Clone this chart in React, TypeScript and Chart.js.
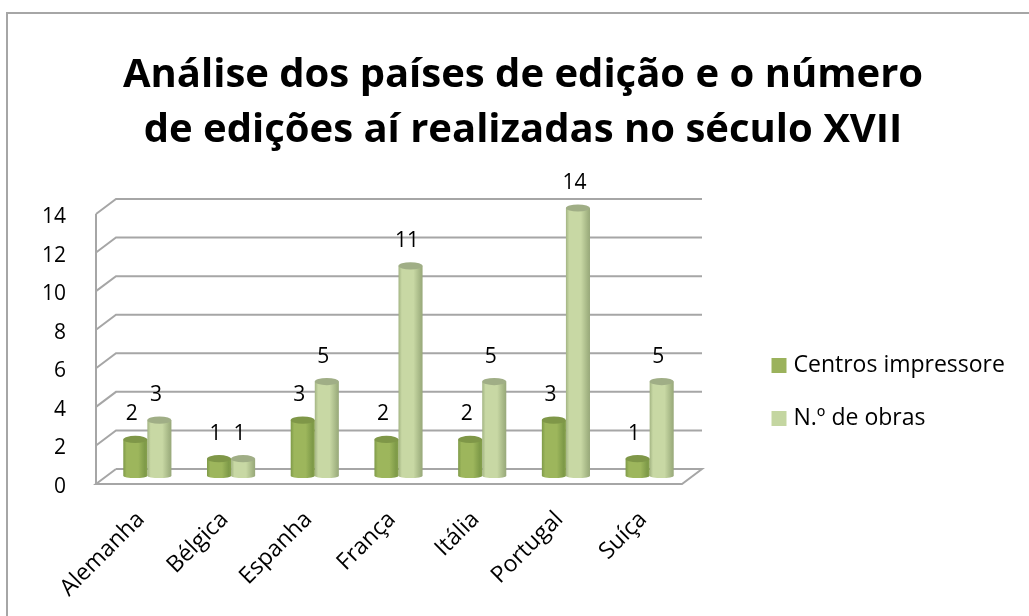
import React, { useEffect, useRef } from "react";
import { Chart, registerables, BarController, BarElement } from "chart.js";

const categories = ["Alemanha", "Bélgica", "Espanha", "França", "Itália", "Portugal", "Suíça"];
const centrosImpressores = [2, 1, 3, 2, 2, 3, 1];
const numeroObras = [3, 1, 5, 11, 5, 14, 5];
const seriesNames = ["Centros impressore", "N.º de obras"];
const titleLines = ["Análise dos países de edição e o número", "de edições aí realizadas no século XVII"];

const DARK = "#9BB25C";
const LIGHT = "#C4D6A1";
const FONT = "'Open Sans'";
const DEPTH_X = 20;
const DEPTH_Y = 15;
const BAR_DX = 9.5;
const BAR_DY = -6;

const shades: Record<string, { edge: string; mid: string; side: string; top: string; rim: string }> = {
  [DARK]: { edge: "#7E9A48", mid: "#9DB65C", side: "#86A04C", top: "#7F9748", rim: "#8AA14E" },
  [LIGHT]: { edge: "#A3B483", mid: "#C8D8A4", side: "#98A87A", top: "#A0AE86", rim: "#B6C596" },
};

class CylinderElement extends BarElement {
  static id = "cylinder";
  static defaults = { ...BarElement.defaults };
  static defaultRoutes = BarElement.defaultRoutes;
  draw(ctx: CanvasRenderingContext2D) {
    const { x, y, base, width } = (this as any).getProps(["x", "y", "base", "width"]);
    const color = (this as any).options.backgroundColor as string;
    const s = shades[color];
    const cx = x + BAR_DX;
    const left = cx - width / 2;
    const right = cx + width / 2;
    const topY = y + BAR_DY;
    const baseY = base + BAR_DY - 2;
    const grad = ctx.createLinearGradient(left, 0, right, 0);
    grad.addColorStop(0, s.edge);
    grad.addColorStop(0.14, s.mid);
    grad.addColorStop(0.62, s.mid);
    grad.addColorStop(0.9, s.edge);
    grad.addColorStop(1, s.side);
    ctx.save();
    ctx.beginPath();
    ctx.moveTo(left, topY);
    ctx.lineTo(left, baseY);
    ctx.ellipse(cx, baseY, width / 2, 2, 0, Math.PI, 0, true);
    ctx.lineTo(right, topY);
    ctx.closePath();
    ctx.fillStyle = grad;
    ctx.fill();
    ctx.beginPath();
    ctx.ellipse(cx, topY, width / 2, 3.6, 0, 0, Math.PI * 2);
    ctx.fillStyle = s.top;
    ctx.fill();
    ctx.restore();
  }
}

class CylinderBarController extends BarController {
  static id = "cylinderBar";
  static defaults = { ...BarController.defaults, dataElementType: "cylinder" };
  static overrides = BarController.overrides;
}

Chart.register(...registerables, CylinderElement, CylinderBarController);

const frame3d = {
  id: "frame3d",
  afterLayout(chart: any) {
    const lg = chart.legend;
    lg.left = 746;
    lg.right = 1029;
    lg.top = 324;
    lg.bottom = 600;
    lg.width = 283;
    lg.height = 276;
    const tb = chart.titleBlock;
    tb.left = 0;
    tb.right = 1046;
    tb.width = 1046;
  },
  beforeDatasetsDraw(chart: any) {
    const { ctx, chartArea, scales } = chart;
    const { left, right, bottom, top } = chartArea;
    ctx.save();
    ctx.strokeStyle = "#A6A6A6";
    ctx.lineWidth = 2;
    ctx.strokeRect(7, 13, 1029, 700);
    ctx.lineJoin = "miter";
    scales.y.ticks.forEach((t: any) => {
      const py = scales.y.getPixelForValue(t.value);
      if (t.value === 0) return;
      ctx.beginPath();
      ctx.moveTo(left, py);
      ctx.lineTo(left + DEPTH_X, py - DEPTH_Y);
      ctx.lineTo(right + DEPTH_X, py - DEPTH_Y);
      ctx.stroke();
    });
    ctx.beginPath();
    ctx.moveTo(left + DEPTH_X, bottom - DEPTH_Y);
    ctx.lineTo(right + DEPTH_X, bottom - DEPTH_Y);
    ctx.lineTo(right, bottom);
    ctx.lineTo(left, bottom);
    ctx.lineTo(left + DEPTH_X, bottom - DEPTH_Y);
    ctx.moveTo(left, bottom);
    ctx.lineTo(left, top);
    ctx.stroke();
    ctx.restore();
  },
  afterDatasetsDraw(chart: any) {
    const { ctx } = chart;
    ctx.save();
    ctx.fillStyle = "#000";
    ctx.font = `21px ${FONT}`;
    ctx.textAlign = "center";
    ctx.textBaseline = "middle";
    chart.data.datasets.forEach((ds: any, di: number) => {
      chart.getDatasetMeta(di).data.forEach((el: any, i: number) => {
        ctx.fillText(String(ds.data[i]), el.x + BAR_DX - 3.5, el.y + BAR_DY - 25);
      });
    });
    ctx.restore();
  },
};

export default function App() {
  const ref = useRef<HTMLCanvasElement>(null);
  useEffect(() => {
    const chart = new Chart(ref.current!, {
      type: "cylinderBar" as any,
      data: {
        labels: categories,
        datasets: [
          { label: seriesNames[0], data: centrosImpressores, backgroundColor: DARK, clip: false },
          { label: seriesNames[1], data: numeroObras, backgroundColor: LIGHT, clip: false },
        ],
      },
      plugins: [frame3d],
      options: {
        animation: false,
        responsive: false,
        layout: { padding: { left: 0, right: 347, top: 0, bottom: 0 } },
        datasets: { cylinderBar: { barPercentage: 1, categoryPercentage: 0.575 } } as any,
        plugins: {
          title: {
            display: true,
            text: titleLines,
            color: "#000",
            font: { family: FONT, size: 40, weight: "bold", lineHeight: 1.375 },
            padding: { top: 48.5, bottom: 55.5 },
          },
          legend: {
            position: "chartArea" as any,
            align: "start",
            labels: {
              usePointStyle: true,
              pointStyle: "rect",
              boxWidth: 6,
              boxHeight: 15,
              padding: 30,
              color: "#000",
              font: { family: FONT, size: 23 },
            },
          },
          tooltip: { enabled: false },
        },
        scales: {
          x: {
            grid: { display: false },
            border: { display: false },
            afterFit: (s: any) => { s.height = 132; },
            ticks: {
              color: "#000",
              font: { family: FONT, size: 23 },
              minRotation: 45,
              maxRotation: 45,
              labelOffset: 3,
              padding: 14,
              autoSkip: false,
            },
          },
          y: {
            min: 0,
            max: 14,
            grid: { display: false },
            border: { display: false },
            afterFit: (s: any) => { s.width = 96; },
            ticks: {
              stepSize: 2,
              color: "#000",
              font: { family: FONT, size: 21 },
              padding: 22,
              labelOffset: 3,
            },
          },
        },
      } as any,
    });
    return () => chart.destroy();
  }, []);
  return (
    <div style={{ position: "absolute", left: 0, top: 0, width: 1029, height: 616, background: "#fff" }}>
      <canvas ref={ref} width={1029} height={616} style={{ display: "block" }} />
    </div>
  );
}
